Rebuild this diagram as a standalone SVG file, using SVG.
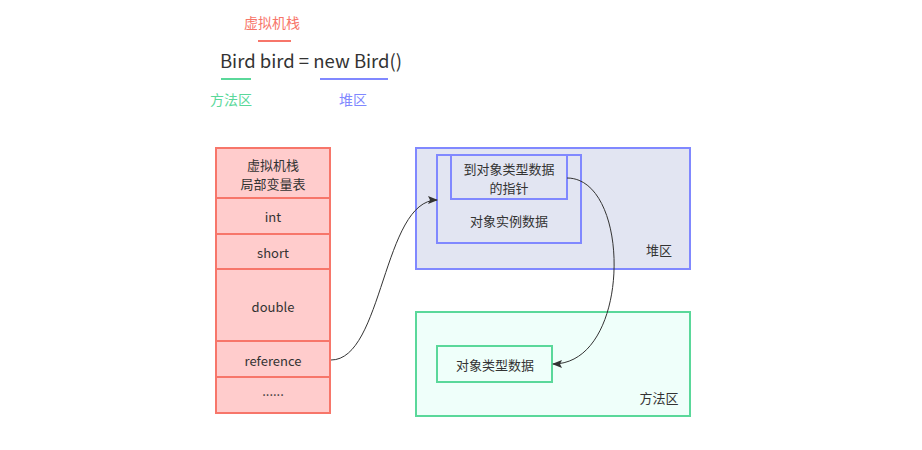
<svg xmlns="http://www.w3.org/2000/svg" width="922" height="450" viewBox="0 0 922 450">
<defs>
<style>
text{font-family:"PingFang SC","Noto Sans CJK SC","Liberation Sans",sans-serif;font-size:13px;fill:#333;text-anchor:middle;dominant-baseline:central}
.stk{fill:#ffcccc;stroke:#f7766a;stroke-width:2}
.heap{fill:#e2e5f2;stroke:#8088ff;stroke-width:2}
.meth{fill:#effffa;stroke:#5ad89a;stroke-width:2}
.conn{fill:none;stroke:#333;stroke-width:1}
</style>
<marker id="arr" markerWidth="10" markerHeight="8" refX="9" refY="4" orient="auto" markerUnits="userSpaceOnUse">
<path d="M0,0 L10,4 L0,8 L2,4 Z" fill="#333"/>
</marker>
</defs>
<rect width="922" height="450" fill="#fff"/>
<g id="legend">
<text x="272" y="22" style="fill:#f7766a;font-size:14px">虚拟机栈</text>
<line x1="258" y1="41" x2="291" y2="41" stroke="#f7766a" stroke-width="2"/>
<text x="311" y="60" style="font-size:18.5px;fill:#333">Bird bird = new Bird()</text>
<line x1="221" y1="79" x2="251" y2="79" stroke="#5ad89a" stroke-width="2"/>
<line x1="320" y1="79" x2="388" y2="79" stroke="#8088ff" stroke-width="2"/>
<text x="231" y="99" style="fill:#5ad89a;font-size:14px">方法区</text>
<text x="353" y="99" style="fill:#8088ff;font-size:14px">堆区</text>
</g>
<g id="stack">
<rect class="stk" x="216" y="148" width="114" height="50"/>
<text x="273" y="164">虚拟机栈</text>
<text x="273" y="183">局部变量表</text>
<rect class="stk" x="216" y="198" width="114" height="36"/>
<text x="273" y="216">int</text>
<rect class="stk" x="216" y="234" width="114" height="35"/>
<text x="273" y="252">short</text>
<rect class="stk" x="216" y="269" width="114" height="72"/>
<text x="273" y="306">double</text>
<rect class="stk" x="216" y="341" width="114" height="36"/>
<text x="273" y="360">reference</text>
<rect class="stk" x="216" y="377" width="114" height="36"/>
<text x="273" y="390">......</text>
</g>
<g id="heap">
<rect class="heap" x="416" y="148" width="274" height="121"/>
<text x="659" y="249">堆区</text>
</g>
<g id="instance">
<rect class="heap" x="437" y="155" width="144" height="88"/>
<text x="509" y="220">对象实例数据</text>
</g>
<g id="pointer">
<rect class="heap" x="451" y="155" width="116" height="44"/>
<text x="509" y="168">到对象类型数据</text>
<text x="509" y="187">的指针</text>
</g>
<g id="method">
<rect class="meth" x="416" y="312" width="274" height="104"/>
<text x="659" y="397">方法区</text>
</g>
<g id="typedata">
<rect class="meth" x="437" y="346" width="115" height="36"/>
<text x="495" y="364">对象类型数据</text>
</g>
<g id="connectors">
<path class="conn" d="M331,360 C383,360 383,200 437,200" marker-end="url(#arr)"/>
<path class="conn" d="M567,178 C632,178 632,364 553,364" marker-end="url(#arr)"/>
</g>
</svg>
